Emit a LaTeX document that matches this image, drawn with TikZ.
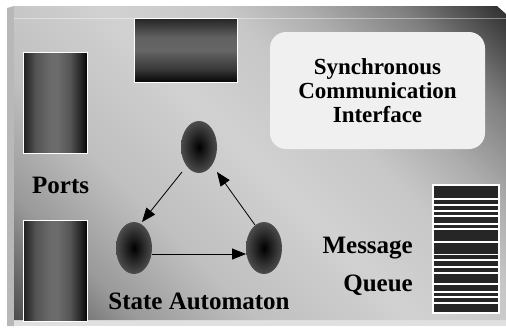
\documentclass[tikz,border=0pt]{standalone}
\usepackage{fontspec}
\setmainfont{Liberation Serif}
\usetikzlibrary{shapes.geometric,arrows.meta,calc}
\definecolor{c0}{gray}{0.30}
\definecolor{c1}{gray}{0.60}
\definecolor{c2}{gray}{0.75}
\definecolor{c3}{gray}{0.82}
\definecolor{c4}{gray}{0.78}
\definecolor{c5}{gray}{0.68}
\definecolor{c6}{gray}{0.50}
\definecolor{c7}{gray}{0.18}
\definecolor{p0}{gray}{0.12}
\definecolor{p1}{gray}{0.33}
\definecolor{p2}{gray}{0.42}
\definecolor{p3}{gray}{0.15}
\definecolor{p4}{gray}{0.02}
\definecolor{t0}{gray}{0.02}
\definecolor{t1}{gray}{0.22}
\definecolor{t2}{gray}{0.40}
\definecolor{t3}{gray}{0.38}
\definecolor{t4}{gray}{0.14}
\definecolor{leftc}{gray}{0.72}
\definecolor{botc}{gray}{0.88}
\definecolor{syncfill}{gray}{0.94}
\definecolor{qdark}{gray}{0.15}
\definecolor{sgray}{gray}{0.30}
\pgfdeclareverticalshading{bgshade}{100bp}{color(0bp)=(c0); color(14.6bp)=(c0); color(25.2bp)=(c1); color(35.8bp)=(c2); color(50bp)=(c3); color(60.6bp)=(c4); color(67.7bp)=(c5); color(76.2bp)=(c6); color(85.4bp)=(c7); color(100bp)=(c7)}
\pgfdeclarehorizontalshading{portshade}{100bp}{color(0bp)=(p0); color(25bp)=(p0); color(35bp)=(p1); color(47bp)=(p2); color(52bp)=(p2); color(62bp)=(p1); color(70bp)=(p3); color(75bp)=(p4); color(100bp)=(p4)}
\pgfdeclareverticalshading{topshade}{100bp}{color(0bp)=(t0); color(25bp)=(t0); color(35bp)=(t1); color(50bp)=(t2); color(60bp)=(t3); color(75bp)=(t4); color(100bp)=(t4)}
\begin{document}
\begin{tikzpicture}[x=1pt,y=-1pt,
  port/.style={draw=white, line width=1pt, shade, shading=portshade, minimum width=64pt, minimum height=101pt, inner sep=0pt},
  toprect/.style={draw=white, line width=1pt, shade, shading=topshade, minimum width=103pt, minimum height=64pt, inner sep=0pt},
  state/.style={ellipse, minimum width=36pt, minimum height=52pt, inner sep=0pt, shade, inner color=black, outer color=sgray},
  arr/.style={draw=black, line width=0.8pt, -{Triangle[length=14pt,width=11pt]}},
  lab/.style={font=\fontsize{25}{28}\selectfont\bfseries, inner sep=0pt},
  qline/.style={draw=white, line width=1.2pt}
]
\useasboundingbox (0,0) rectangle (506,327);
\fill[white] (0,0) rectangle (506,327);
\fill[leftc] (7,8) -- (14,6) -- (14,326) -- (7,326) -- cycle;
\fill[botc] (14,320) rectangle (506,326);
\shade[shading=bgshade, shading angle=-45] (14,6) -- (497,6) -- (506,14) -- (506,320) -- (14,320) -- cycle;
\draw[white, opacity=0.4] (14,18) -- (506,18);

\node[port] (port1) at (55,102.5) {};
\node[port] (port2) at (55,271) {};
\node[toprect] (topbox) at (185.5,50) {};

\node[fill=syncfill, rounded corners=16pt, minimum width=215pt, minimum height=117pt, align=center,
  font=\fontsize{23}{24}\selectfont\bfseries] (sync) at (377.5,90.5) {Synchronous\\Communication\\Interface};

\node[fill=qdark, draw=white, line width=1.2pt, minimum width=66pt, minimum height=128pt, inner sep=0pt] (queue) at (466,249) {};
\foreach \y in {199,205,211,216,224,229,242,254.5,260,267,273,284,292,297,303}
  \draw[qline] (queue.west |- 0,\y) -- (queue.east |- 0,\y);

\node[state] (stop) at (199,147) {};
\node[state] (sleft) at (134,248) {};
\node[state] (sright) at (264,248) {};

\draw[arr] ([xshift=-17pt,yshift=-25pt]stop.center) -- ([xshift=8pt,yshift=26pt]sleft.center);
\draw[arr] ([xshift=18pt,yshift=-6pt]sleft.center) -- ([xshift=-18pt,yshift=-6pt]sright.center);
\draw[arr] ([xshift=-9pt,yshift=23pt]sright.center) -- ([xshift=18pt,yshift=-25pt]stop.center);

\node[lab, anchor=base west] (portslab) at (32,193) {Ports};
\node[lab, anchor=base] (salab) at (199,309) {State Automaton};
\node[lab, anchor=base east] (msglab) at (413,253) {Message};
\node[lab, anchor=base east] (queuelab) at (413,291) {Queue};
\end{tikzpicture}
\end{document}
